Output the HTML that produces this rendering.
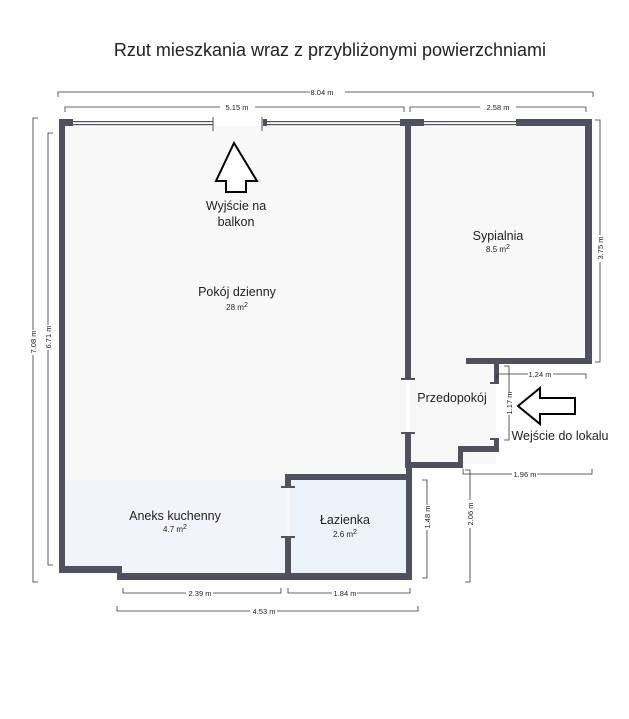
<!DOCTYPE html>
<html><head><meta charset="utf-8"><style>
html,body{margin:0;padding:0;background:#fff;width:629px;height:719px;overflow:hidden}
svg{display:block}
text{font-family:"Liberation Sans",sans-serif;fill:#222}
</style></head><body>
<svg width="629" height="719" viewBox="0 0 629 719" xmlns="http://www.w3.org/2000/svg">
<rect x="65" y="126" width="341" height="448" fill="#f8f8f8"/>
<rect x="410" y="126" width="176" height="234" fill="#f8f8f8"/>
<rect x="410" y="360" width="86" height="104" fill="#f8f8f8"/>
<rect x="65" y="480" width="222" height="94" fill="#f3f3fb"/>
<rect x="290" y="480" width="118" height="95" fill="#edf3fb"/>
<g fill="#50505f">
<rect x="59" y="119" width="14" height="7"/>
<rect x="263" y="119" width="4" height="7"/>
<rect x="400" y="119" width="24" height="7"/>
<rect x="516" y="119" width="76" height="7"/>
<rect x="73" y="121" width="140" height="1.2"/><rect x="73" y="124" width="140" height="1.2"/>
<rect x="267" y="121" width="133" height="1.2"/><rect x="267" y="124" width="133" height="1.2"/>
<rect x="424" y="121" width="92" height="1.2"/><rect x="424" y="124" width="92" height="1.2"/>
<rect x="59" y="119" width="6" height="454"/>
<rect x="59" y="566" width="63" height="7"/>
<rect x="117" y="566" width="5" height="14"/>
<rect x="117" y="573" width="295" height="7"/>
<rect x="405" y="119" width="6" height="260"/>
<rect x="401" y="378" width="14" height="2"/>
<rect x="401" y="432" width="14" height="2"/>
<rect x="405" y="432" width="6" height="36"/>
<rect x="405" y="462" width="58" height="6"/>
<rect x="458" y="446" width="5" height="22"/>
<rect x="458" y="446" width="41" height="6"/>
<rect x="494" y="438" width="5" height="14"/>
<rect x="490" y="438" width="9" height="2"/>
<rect x="494" y="358" width="5" height="26"/>
<rect x="490" y="382" width="9" height="2"/>
<rect x="585" y="119" width="7" height="245"/>
<rect x="466" y="358" width="126" height="6"/>
<rect x="285" y="474" width="127" height="6"/>
<rect x="406" y="462" width="6" height="118"/>
<rect x="285" y="474" width="6" height="13"/>
<rect x="281" y="486" width="14" height="2"/>
<rect x="285" y="537" width="6" height="43"/>
<rect x="281" y="536" width="14" height="2"/>
</g>
<g stroke="#50505f" stroke-width="1">
<line x1="213" y1="117" x2="213" y2="131"/><line x1="262" y1="117" x2="262" y2="131"/>
</g>
<g stroke="#333" stroke-width="0.8" fill="none">
<path d="M58 97V92H310M345 92H593V97"/>
<path d="M65 112V107H220M255 107H404V112"/>
<path d="M410 112V107H480M516 107H586V112"/>
<path d="M38 118H33V330M33 355V582H38"/>
<path d="M53 133H48V325M48 350V565H53"/>
<path d="M595 120H600V235M600 262V362H595"/>
<path d="M497 379V374H528M553 374H586V379"/>
<path d="M504 366H509V392M509 415V440H504"/>
<path d="M463 469V474H512M537 474H592V469"/>
<path d="M465 470H470V500M470 528V582H465"/>
<path d="M422 480H427V505M427 530V578H422"/>
<path d="M123 588V593H186M213 593H281V588"/>
<path d="M288 588V593H332M357 593H410V588"/>
<path d="M117 606V611H250M277 611H418V606"/>
</g>
<g font-size="7.5" text-anchor="middle">
<text x="322" y="95">8.04 m</text>
<text x="237" y="110">5.15 m</text>
<text x="498" y="110">2.58 m</text>
<text x="540" y="377">1.24 m</text>
<text x="525" y="477">1.96 m</text>
<text x="200" y="596">2.39 m</text>
<text x="345" y="596">1.84 m</text>
<text x="264" y="614">4.53 m</text>
<text transform="translate(36,342) rotate(-90)">7.08 m</text>
<text transform="translate(51,337) rotate(-90)">6.71 m</text>
<text transform="translate(603,248) rotate(-90)">3.75 m</text>
<text transform="translate(512,403) rotate(-90)">1.17 m</text>
<text transform="translate(473,514) rotate(-90)">2.06 m</text>
<text transform="translate(430,517) rotate(-90)">1.48 m</text>
</g>
<path d="M234 143L257 181H246V192H226V181H216Z" fill="#fff" stroke="#000" stroke-width="2"/>
<path d="M518 406L540 388V398H575V414H540V424Z" fill="#fff" stroke="#000" stroke-width="2"/>
<text x="330" y="56" font-size="18" text-anchor="middle" fill="#111">Rzut mieszkania wraz z przybliżonymi powierzchniami</text>
<g font-size="12.5" text-anchor="middle">
<text x="236" y="210">Wyjście na</text>
<text x="236" y="226">balkon</text>
<text x="237" y="296">Pokój dzienny</text>
<text x="498" y="240">Sypialnia</text>
<text x="452" y="402">Przedopokój</text>
<text x="175" y="520">Aneks kuchenny</text>
<text x="345" y="524">Łazienka</text>
<text x="560" y="440">Wejście do lokalu</text>
</g>
<g font-size="8" text-anchor="middle">
<text x="237" y="310">28 m<tspan font-size="7" dy="-3">2</tspan></text>
<text x="498" y="252">8.5 m<tspan font-size="7" dy="-3">2</tspan></text>
<text x="175" y="532">4.7 m<tspan font-size="7" dy="-3">2</tspan></text>
<text x="345" y="537">2.6 m<tspan font-size="7" dy="-3">2</tspan></text>
</g>
</svg>
</body></html>
